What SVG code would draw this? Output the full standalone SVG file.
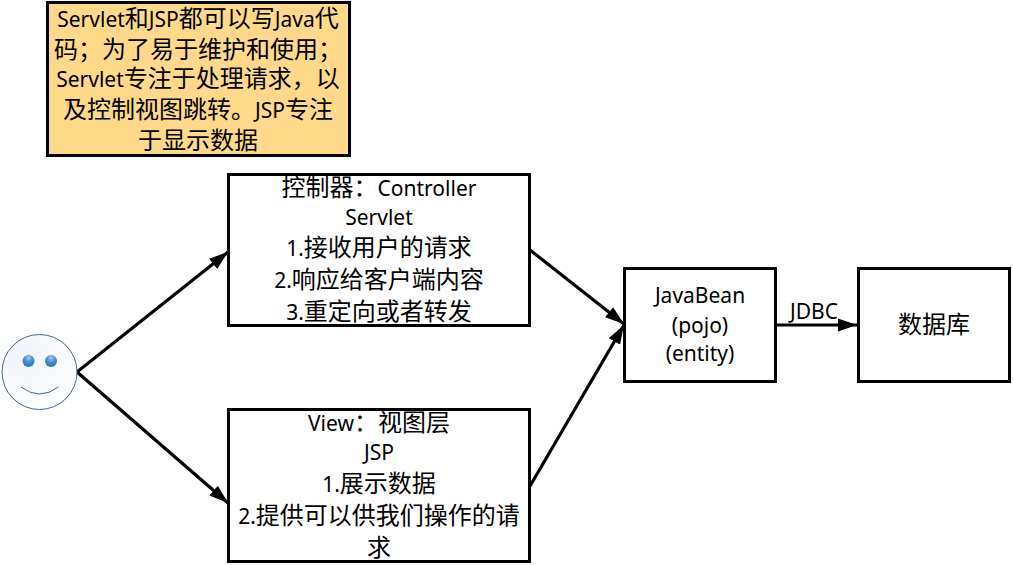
<svg xmlns="http://www.w3.org/2000/svg" width="1013" height="565" viewBox="0 0 1013 565">
<style>
.b{fill:#fff;stroke:#000;stroke-width:3}
.t{font-family:"Noto Sans CJK SC",sans-serif;font-size:24px;fill:#000;text-anchor:middle}
.l{font-family:"Noto Sans",sans-serif;font-size:21px}
.c{fill:none;stroke:#000;stroke-width:3.200}
</style>
<defs>
<marker id="a" markerUnits="userSpaceOnUse" markerWidth="19" markerHeight="14" refX="19" refY="7" orient="auto"><path d="M0 0.500L19 7L0 13.500z" fill="#000"/></marker>
<radialGradient id="f" cx="0.3" cy="0.3" r="0.8"><stop offset="0" stop-color="#f0f3fa"/><stop offset="1" stop-color="#fff"/></radialGradient>
<radialGradient id="e" cx="0.5" cy="0.25" r="0.7"><stop offset="0" stop-color="#a5c8ea"/><stop offset="0.5" stop-color="#4a8fd0"/><stop offset="1" stop-color="#2f75bb"/></radialGradient>
</defs>
<g id="connectors">
<path class="c" d="M77 372L228 252" marker-end="url(#a)"/>
<path class="c" d="M77 372L228 503" marker-end="url(#a)"/>
<path class="c" d="M530 250L624 324" marker-end="url(#a)"/>
<path class="c" d="M530 486L624 325" marker-end="url(#a)"/>
<path class="c" d="M775 325L857 325" marker-end="url(#a)"/>
<text class="t" x="814" y="319"><tspan class="l">JDBC</tspan></text>
</g>
<g id="note">
<rect x="47.500" y="2.500" width="302" height="153" fill="#ffd98a" stroke="#000" stroke-width="3"/>
<text class="t" x="198" y="27"><tspan class="l">Servlet</tspan>和<tspan class="l">JSP</tspan>都可以写<tspan class="l">Java</tspan>代</text>
<text class="t" x="198" y="58">码；为了易于维护和使用；</text>
<text class="t" x="198" y="87"><tspan class="l">Servlet</tspan>专注于处理请求，以</text>
<text class="t" x="198" y="118">及控制视图跳转。<tspan class="l">JSP</tspan>专注</text>
<text class="t" x="198" y="149">于显示数据</text>
</g>
<g id="user">
<circle cx="39.500" cy="372" r="37.500" fill="url(#f)" stroke="#3f6a94" stroke-width="1"/>
<circle cx="28.500" cy="361" r="6" fill="url(#e)"/>
<circle cx="51" cy="361" r="6" fill="url(#e)"/>
<path d="M21 387Q39.500 401 58.500 387" fill="none" stroke="#3f6a94" stroke-width="1"/>
</g>
<g id="controller">
<rect class="b" x="228.500" y="174.500" width="301" height="151"/>
<text class="t" x="379" y="196">控制器：<tspan class="l">Controller</tspan></text>
<text class="t" x="379" y="225"><tspan class="l">Servlet</tspan></text>
<text class="t" x="379" y="256"><tspan class="l">1.</tspan>接收用户的请求</text>
<text class="t" x="379" y="288"><tspan class="l">2.</tspan>响应给客户端内容</text>
<text class="t" x="379" y="320"><tspan class="l">3.</tspan>重定向或者转发</text>
</g>
<g id="view">
<rect class="b" x="228.500" y="409.500" width="301" height="152"/>
<text class="t" x="379" y="431"><tspan class="l">View</tspan>：视图层</text>
<text class="t" x="379" y="460"><tspan class="l">JSP</tspan></text>
<text class="t" x="379" y="492"><tspan class="l">1.</tspan>展示数据</text>
<text class="t" x="379" y="524"><tspan class="l">2.</tspan>提供可以供我们操作的请</text>
<text class="t" x="379" y="556">求</text>
</g>
<g id="javabean">
<rect class="b" x="624.500" y="268.500" width="151" height="113"/>
<text class="t" x="700" y="303"><tspan class="l">JavaBean</tspan></text>
<text class="t" x="700" y="333"><tspan class="l">(pojo)</tspan></text>
<text class="t" x="700" y="361"><tspan class="l">(entity)</tspan></text>
</g>
<g id="db">
<rect class="b" x="858.500" y="268.500" width="151" height="113"/>
<text class="t" x="934" y="333">数据库</text>
</g>
</svg>
